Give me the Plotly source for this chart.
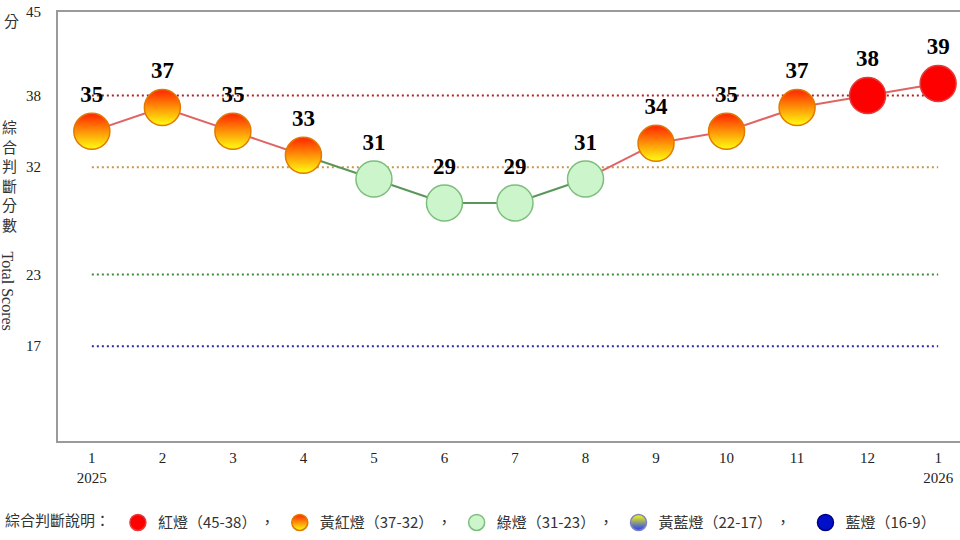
"""
Monthly composite score (景氣對策信號) chart, Jan 2025 - Jan 2026.
"""

import plotly.graph_objects as go

# ---- data -------------------------------------------------------------
MONTHS = ["1<br>2025", "2", "3", "4", "5", "6", "7", "8", "9", "10", "11", "12", "1<br>2026"]
SCORES = [35, 37, 35, 33, 31, 29, 29, 31, 34, 35, 37, 38, 39]

Y_TICKS = [17, 23, 32, 38, 45]
THRESHOLDS = [38, 32, 23, 17]
THRESHOLD_COLORS = ["#B22222", "#C8964A", "#3C8C3C", "#2A2AA0"]

# light categories, from top band to bottom band
LIGHT_NAMES = ["紅燈（45-38）", "黃紅燈（37-32）", "綠燈（31-23）", "黃藍燈（22-17）", "藍燈（16-9）"]
LIGHT_FLOORS = [38, 32, 23, 17, 9]
LEGEND_SEP = ["&nbsp;，", "&nbsp;，", "&nbsp;，", "&nbsp;，&nbsp;&nbsp;&nbsp;", ""]

# marker look per light: (fill / top colour, bottom gradient colour, border colour)
LIGHT_STYLES = [
    ("#FF0000", None, "#E43A3A"),
    ("#FF2400", "#FFFF10", "#E07A00"),
    ("#CCF5CC", None, "#7DBE7D"),
    ("#FFFF00", "#1E3CFF", "#8080C0"),
    ("#0010C8", None, "#000080"),
]
SEG_COLORS = ["#E06464", "#E06464", "#5A965A", "#5A965A", "#5A965A"]

SERIF = "Liberation Serif, Times New Roman, serif"
CJK = "Noto Sans CJK TC, sans-serif"


def light_of(v):
    for i, floor in enumerate(LIGHT_FLOORS):
        if v >= floor:
            return i
    return len(LIGHT_FLOORS) - 1


xs = list(range(len(SCORES)))
lights = [light_of(v) for v in SCORES]

fig = go.Figure()

# dotted threshold lines across the whole period
for level, col in zip(THRESHOLDS, THRESHOLD_COLORS):
    fig.add_trace(go.Scatter(
        x=[xs[0], xs[-1]], y=[level, level], mode="lines",
        line=dict(color=col, width=2, dash="2px,3px"),
        showlegend=False, hoverinfo="skip",
    ))

# connecting line, each segment coloured by the light it ends in
for i in range(1, len(SCORES)):
    fig.add_trace(go.Scatter(
        x=[xs[i - 1], xs[i]], y=[SCORES[i - 1], SCORES[i]], mode="lines",
        line=dict(color=SEG_COLORS[lights[i]], width=2),
        showlegend=False, hoverinfo="skip",
    ))

# markers + value labels, one trace per light (also feeds the legend)
for k, name in enumerate(LIGHT_NAMES):
    idx = [i for i in xs if lights[i] == k]
    fill, grad, border = LIGHT_STYLES[k]
    marker = dict(size=36, color=fill, line=dict(color=border, width=1.5))
    if grad:
        marker["gradient"] = dict(type="vertical", color=grad)
    fig.add_trace(go.Scatter(
        x=[xs[i] for i in idx] or [None],
        y=[SCORES[i] for i in idx] or [None],
        mode="markers+text",
        text=[f"<b>{SCORES[i]}</b>" for i in idx],
        textposition="top center",
        textfont=dict(family=SERIF, size=23, color="black"),
        marker=marker,
        name=name + LEGEND_SEP[k], legendrank=k + 1,
    ))

# axis titles drawn as text to the left of the plot
fig.add_annotation(text="分", x=0, xref="paper", xanchor="center", y=45, yref="y",
                   xshift=-47, yshift=-8, showarrow=False,
                   font=dict(family=CJK, size=15, color="#333"))
fig.add_annotation(text="<br>".join("綜合判斷分數"), x=0, xref="paper", xanchor="center",
                   y=0.5, yref="paper", xshift=-49, yshift=51, showarrow=False,
                   font=dict(family=CJK, size=15, color="#333"))
fig.add_annotation(text="Total Scores", x=0, xref="paper", xanchor="center",
                   y=0.5, yref="paper", xshift=-51, yshift=-64, textangle=90, showarrow=False,
                   font=dict(family=SERIF, size=16, color="#333"))

fig.update_layout(
    width=960, height=540,
    margin=dict(l=58, r=0, t=12, b=99, autoexpand=False),
    paper_bgcolor="white", plot_bgcolor="white",
    showlegend=True,
    legend=dict(
        orientation="h", xref="container", yref="container",
        x=0.003, xanchor="left", y=0.032, yanchor="middle",
        title=dict(text="綜合判斷說明：", side="left", font=dict(family=CJK, size=15, color="#333")),
        font=dict(family=CJK, size=15, color="#333"),
        itemclick=False, traceorder="normal", itemwidth=30,
    ),
    xaxis=dict(
        range=[-0.48, 12.31], tickvals=xs, ticktext=MONTHS,
        showgrid=False, zeroline=False, automargin=False,
        showline=True, mirror=True, linecolor="#9A9A9A", linewidth=2,
        ticks="", ticklabelstandoff=2,
        tickfont=dict(family=SERIF, size=15, color="#222"),
    ),
    yaxis=dict(
        range=[9.05, 45], tickvals=Y_TICKS,
        showgrid=False, zeroline=False, automargin=False,
        showline=True, linecolor="#9A9A9A", linewidth=2,
        ticks="", ticklabelstandoff=12,
        tickfont=dict(family=SERIF, size=15, color="#222"),
    ),
)

# drop the browser's default 8px body margin so the figure sits at the page corner
fig.write_html("out.html", config={"displayModeBar": False},
               post_script="document.body.style.margin='0';")
